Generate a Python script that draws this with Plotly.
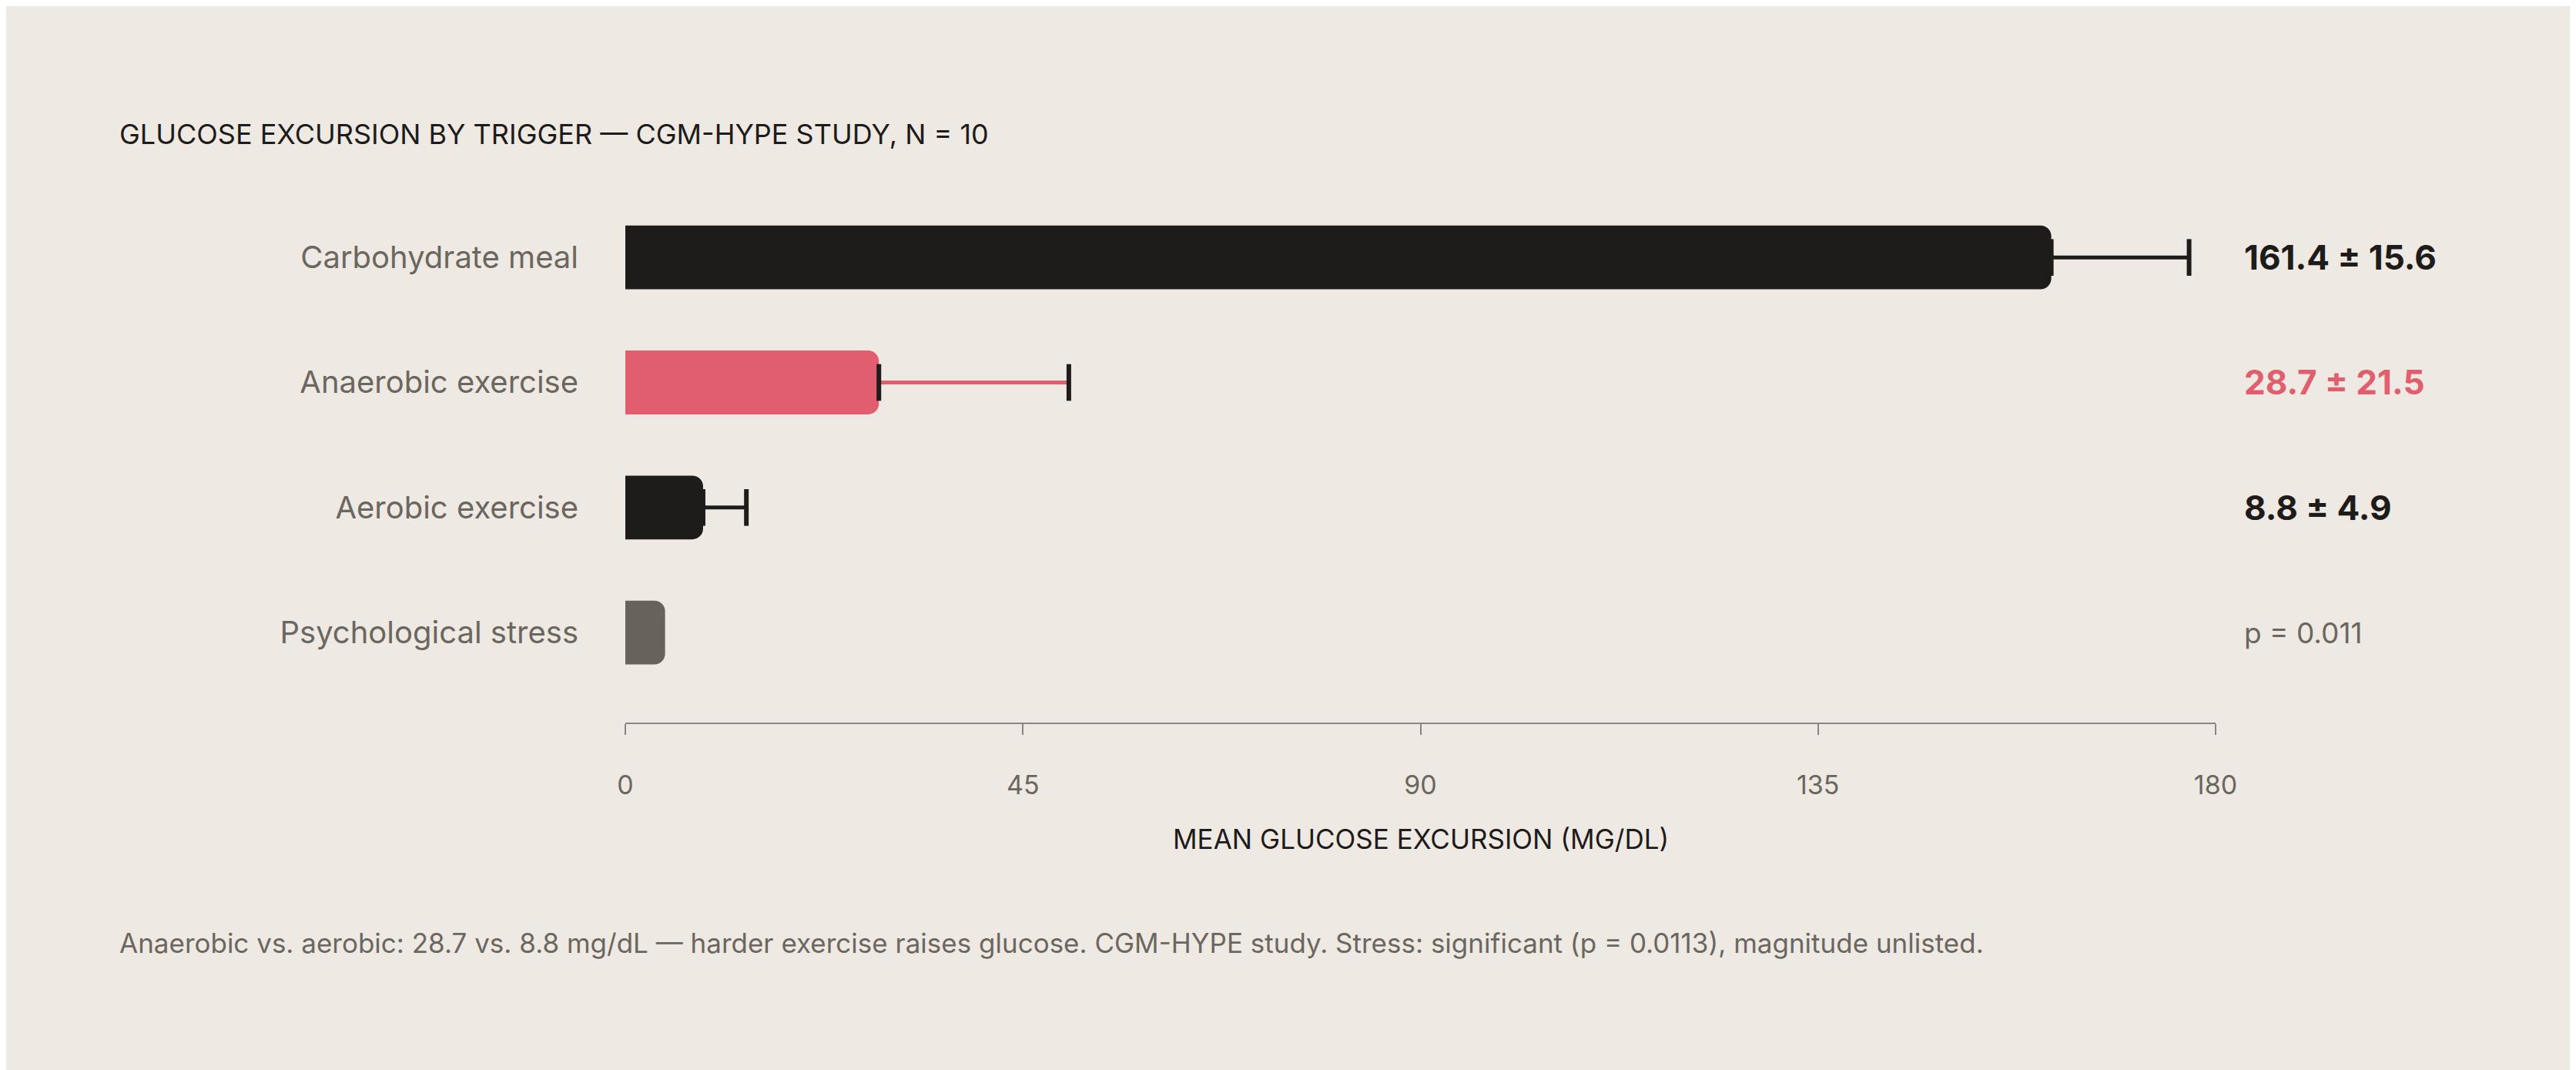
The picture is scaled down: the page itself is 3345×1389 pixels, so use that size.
import plotly.graph_objects as go

categorias = ["Carbohydrate meal", "Anaerobic exercise", "Aerobic exercise", "Psychological stress"]
medias = [161.4, 28.7, 8.8, 4.5]
desvios = [15.6, 21.5, 4.9, None]
rotulos = ["161.4 ± 15.6", "28.7 ± 21.5", "8.8 ± 4.9", "p = 0.011"]
cores_barra = ["#1e1c1a", "#e05e6d", "#1e1c1a", "#67625c"]
cores_rotulo = ["#1e1c1a", "#e05e6d", "#1e1c1a", "#6b6660"]
ticks_x = [0, 45, 90, 135, 180]

FONTE = "Inter, Lato, sans-serif"
FUNDO = "#eeeae3"

fig = go.Figure()

fig.add_trace(go.Bar(
    x=medias, y=categorias, orientation="h", width=0.51,
    marker=dict(color=cores_barra, cornerradius=14, line=dict(width=0)),
    hoverinfo="skip", showlegend=False
))

# barras de erro: haste colorida, tampas pretas
for cat, m, d, c in zip(categorias, medias, desvios, cores_barra):
    if d is None:
        continue
    cor_haste = c if c != "#67625c" else "#1e1c1a"
    fig.add_trace(go.Scatter(
        x=[m, m + d], y=[cat, cat], mode="lines+markers",
        line=dict(color=cor_haste, width=5),
        marker=dict(symbol="line-ns", size=34, line=dict(color="#1e1c1a", width=6)),
        hoverinfo="skip", showlegend=False
    ))

for cat, txt, c, d in zip(categorias, rotulos, cores_rotulo, desvios):
    fig.add_annotation(
        x=1.017, xref="paper", y=cat, yref="y", text=f"<b>{txt}</b>" if d is not None else txt,
        showarrow=False, xanchor="left",
        font=dict(family=FONTE, size=44 if d is not None else 37, color=c)
    )

fig.add_annotation(
    x=145, xref="paper", y=166, text="GLUCOSE EXCURSION BY TRIGGER — CGM-HYPE STUDY, N = 10",
    showarrow=False, xanchor="left", yanchor="middle",
    font=dict(family=FONTE, size=36, color="#1e1c1a")
)
fig.add_annotation(
    x=0.5, xref="paper", y=1081, text="MEAN GLUCOSE EXCURSION (MG/DL)",
    showarrow=False, xanchor="center", yanchor="middle",
    font=dict(family=FONTE, size=35, color="#1e1c1a")
)
fig.add_annotation(
    x=145, y=1216,
    text="Anaerobic vs. aerobic: 28.7 vs. 8.8 mg/dL — harder exercise raises glucose. CGM-HYPE study. Stress: significant (p = 0.0113), magnitude unlisted.",
    showarrow=False, xanchor="left", yanchor="middle",
    font=dict(family=FONTE, size=35, color="#6b6660")
)

# annotations com coordenadas em pixels: converter para paper
L, R, T, B = 804, 476, 245, 459
W, H = 3345, 1389
for a in fig.layout.annotations[len(categorias):]:
    if a.xref != "paper" or a.x > 1:
        a.x = (a.x - L) / (W - L - R)
        a.xref = "paper"
    a.y = (H - B - a.y) / (H - T - B)
    a.yref = "paper"

fig.update_layout(
    width=W, height=H,
    margin=dict(l=L, r=R, t=T, b=B),
    paper_bgcolor=FUNDO, plot_bgcolor=FUNDO,
    font=dict(family=FONTE),
)
fig.update_xaxes(
    range=[0, 180], tickvals=ticks_x, showgrid=False, zeroline=False,
    showline=True, linecolor="#8a8580", linewidth=2,
    ticks="outside", ticklen=14, tickwidth=2, tickcolor="#8a8580",
    ticklabelstandoff=36, tickfont=dict(size=34, color="#6b6660")
)
fig.update_yaxes(
    range=[3.72, -0.5], showgrid=False, zeroline=False, showline=False,
    ticks="", ticklabelstandoff=60, tickfont=dict(size=40, color="#6b6660")
)

fig.write_html("out.html")
